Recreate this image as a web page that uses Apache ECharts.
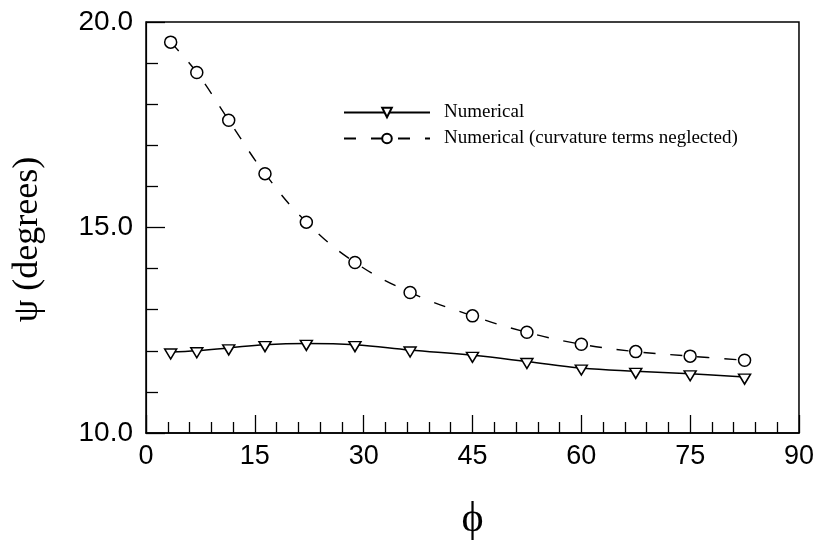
<!DOCTYPE html>
<html>
<head>
<meta charset="utf-8">
<script src="https://cdn.jsdelivr.net/npm/echarts@6/dist/echarts.min.js"></script>
<style>
  html, body { margin: 0; padding: 0; background: #fff; }
  #chart { width: 817px; height: 546px; }
</style>
</head>
<body>
<div id="chart"></div>
<script>
const phi = [3.4, 7.0, 11.4, 16.4, 22.1, 28.8, 36.4, 45.0, 52.5, 60.0, 67.5, 75.0, 82.5]
const numerical = [11.97, 12.0, 12.07, 12.15, 12.18, 12.15, 12.02, 11.89, 11.74, 11.58, 11.5, 11.44, 11.36]
const neglected = [19.51, 18.77, 17.61, 16.31, 15.13, 14.15, 13.42, 12.85, 12.45, 12.16, 11.98, 11.87, 11.77]
const seriesNames = ["Numerical", "Numerical (curvature terms neglected)"]

const chart = echarts.init(document.getElementById("chart"))

const pairs = (ys) => phi.map((x, i) => [x, ys[i]])

const option = {
  animation: false,
  backgroundColor: "#fff",
  legend: {
    orient: "vertical",
    left: 338,
    top: 98,
    itemWidth: 86,
    itemHeight: 12,
    itemGap: 7,
    textStyle: {
      fontFamily: "Liberation Serif",
      fontSize: 19,
      color: "#000",
      padding: [0, 0, 0, 9],
    },
    data: seriesNames,
  },
  grid: {
    left: 146,
    right: 18,
    top: 22,
    bottom: 95,
    show: true,
    borderColor: "#000",
    borderWidth: 1.5,
  },
  xAxis: {
    type: "value",
    min: 0,
    max: 90,
    interval: 15,
    name: "\u03d5",
    nameLocation: "middle",
    nameGap: 66,
    nameTextStyle: { fontFamily: "Liberation Serif", fontSize: 42, color: "#000" },
    axisLine: { lineStyle: { color: "#000", width: 1.5 } },
    axisTick: { inside: true, length: 18, lineStyle: { color: "#000", width: 1.3 } },
    minorTick: { show: true, splitNumber: 5, length: 11, lineStyle: { color: "#000", width: 1.3 } },
    axisLabel: { fontFamily: "Liberation Sans", fontSize: 27, color: "#000", margin: 10 },
    splitLine: { show: false },
  },
  yAxis: {
    type: "value",
    min: 10,
    max: 20,
    interval: 5,
    name: "\u03c8 (degrees)",
    nameLocation: "middle",
    nameGap: 100,
    nameTextStyle: {
      fontFamily: "Liberation Serif",
      fontSize: 36,
      color: "#000",
      padding: [0, 24, 0, 0],
    },
    axisLine: { lineStyle: { color: "#000", width: 1.2 } },
    axisTick: { inside: true, length: 19, lineStyle: { color: "#000", width: 1.3 } },
    minorTick: { show: true, splitNumber: 5, length: 12, lineStyle: { color: "#000", width: 1.3 } },
    axisLabel: {
      fontFamily: "Liberation Sans",
      fontSize: 28,
      color: "#000",
      margin: 13,
      formatter: (v) => v.toFixed(1),
    },
    splitLine: { show: false },
  },
  series: [
    {
      name: seriesNames[0],
      type: "line",
      smooth: 0.4,
      data: pairs(numerical),
      symbol: "triangle",
      symbolRotate: 180,
      symbolSize: [12, 10],
      symbolOffset: [0, 2],
      showAllSymbol: true,
      lineStyle: { color: "#000", width: 1.5 },
      itemStyle: { color: "#fff", borderColor: "#000", borderWidth: 1.5 },
    },
    {
      name: seriesNames[1],
      type: "line",
      smooth: 0.4,
      data: pairs(neglected),
      symbol: "circle",
      symbolSize: 12,
      showAllSymbol: true,
      lineStyle: { color: "#000", width: 1.4, type: [12, 15] },
      itemStyle: { color: "#fff", borderColor: "#000", borderWidth: 1.5 },
    },
  ],
}

chart.setOption(option)
</script>
</body>
</html>
